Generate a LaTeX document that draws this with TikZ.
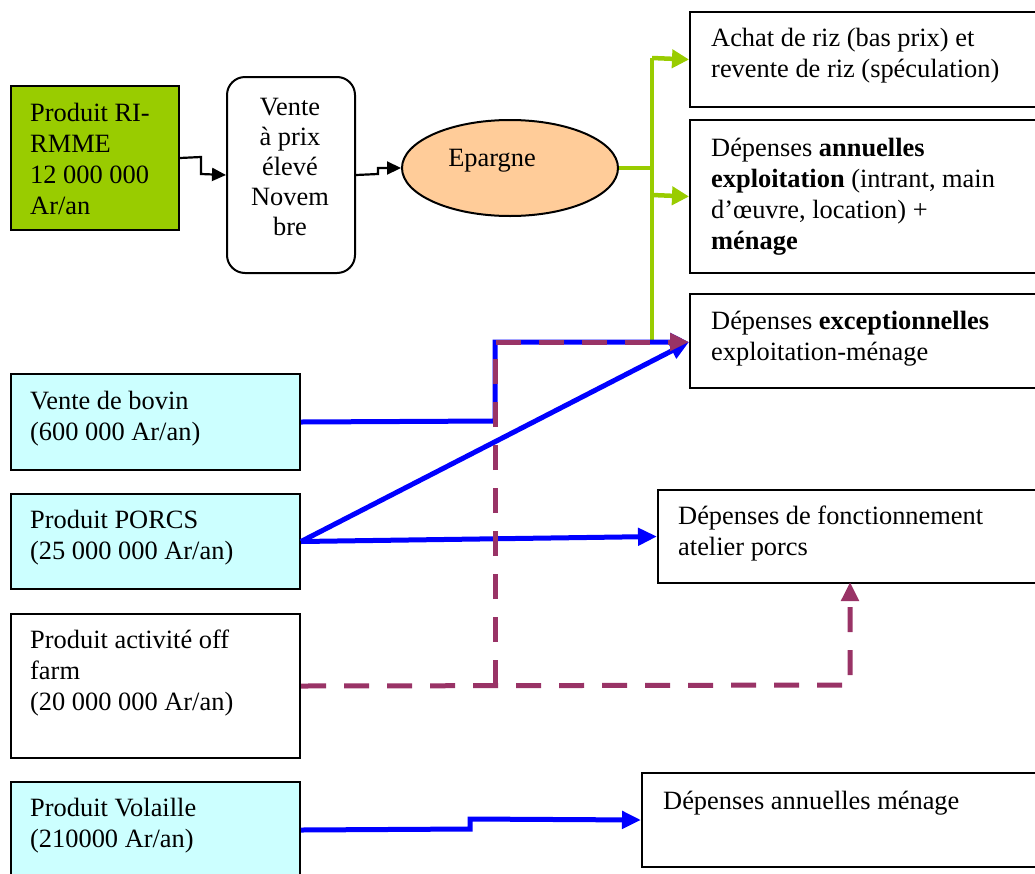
\documentclass[tikz,border=0pt]{standalone}
\usepackage{fontspec}
\setmainfont{Liberation Serif}
\usetikzlibrary{arrows.meta,shapes.geometric,calc}
\definecolor{rigreen}{RGB}{153,204,0}
\definecolor{cyanbox}{RGB}{204,255,255}
\definecolor{epfill}{RGB}{255,204,153}
\definecolor{plum}{RGB}{153,51,102}
\begin{document}
\begin{tikzpicture}[x=1pt,y=-1pt,
  box/.style={draw=black,line width=2pt,rectangle,inner sep=0pt,anchor=north west},
  txt/.style={inner sep=0pt,anchor=north west,yshift=17.5pt,align=left,font=\fontsize{26.4}{31}\selectfont},
  ctxt/.style={inner sep=0pt,anchor=north,yshift=17.5pt,align=center,font=\fontsize{26.4}{30}\selectfont},
  blk/.style={line width=2.2pt,-{Triangle[length=14pt,width=13pt]}},
  grn/.style={rigreen,line width=4.5pt},
  grnarr/.style={grn,-{Triangle[length=17pt,width=18pt]}},
  blu/.style={blue,line width=5pt,-{Triangle[length=19pt,width=17pt]}},
  plm/.style={plum,line width=5pt,dash pattern=on 25pt off 18pt,-{Triangle[length=19pt,width=17pt]}}
]
\useasboundingbox (0,0) rectangle (1035,873);
\clip (0,0) rectangle (1035,873);

% left column
\node[box,fill=rigreen,minimum width=168pt,minimum height=144pt] (ri) at (10,85) {};
\node[txt] (riT) at ($(ri.north west)+(20,35)$) {Produit RI-\\RMME\\12 000 000\\Ar/an};

\node[box,fill=white,rounded corners=18pt,minimum width=128pt,minimum height=196pt] (vente) at (226,76) {};
\node[ctxt] (venteT) at (290,116) {Vente\\à prix\\élevé\\Novem\\bre};

\node[draw=black,line width=2pt,ellipse,fill=epfill,minimum width=216pt,minimum height=96pt,inner sep=0pt] (epargne) at (510,168) {};
\node[ctxt] (epargneT) at (492,167) {Epargne};

\node[box,fill=cyanbox,minimum width=289pt,minimum height=96pt] (bovin) at (10,373) {};
\node[txt] (bovinT) at ($(bovin.north west)+(20,35)$) {Vente de bovin\\(600 000 Ar/an)};

\node[box,fill=cyanbox,minimum width=289pt,minimum height=95pt] (porcs) at (10,493) {};
\node[txt] (porcsT) at ($(porcs.north west)+(20,34)$) {Produit PORCS\\(25 000 000 Ar/an)};

\node[box,fill=white,minimum width=289pt,minimum height=144pt] (offfarm) at (10,613) {};
\node[txt] (offfarmT) at ($(offfarm.north west)+(20,34)$) {Produit activité off\\farm\\(20 000 000 Ar/an)};

\node[box,fill=cyanbox,minimum width=289pt,minimum height=96pt] (volaille) at (10,781) {};
\node[txt] (volailleT) at ($(volaille.north west)+(20,34)$) {Produit Volaille\\(210000 Ar/an)};

% right column
\node[box,minimum width=380pt,minimum height=95pt] (achat) at (689,11) {};
\node[txt] (achatT) at ($(achat.north west)+(22,34)$) {Achat de riz (bas prix) et\\revente de riz (spéculation)};

\node[box,minimum width=380pt,minimum height=153pt] (annuelles) at (689,119) {};
\node[txt] (annuellesT) at ($(annuelles.north west)+(22,36)$) {Dépenses \textbf{annuelles}\\\textbf{exploitation} (intrant, main\\d’œuvre, location) +\\\textbf{ménage}};

\node[box,minimum width=380pt,minimum height=94pt] (except) at (689,293) {};
\node[txt] (exceptT) at ($(except.north west)+(22,35)$) {Dépenses \textbf{exceptionnelles}\\exploitation-ménage};

\node[box,minimum width=400pt,minimum height=93pt] (atelier) at (657,489) {};
\node[txt] (atelierT) at ($(atelier.north west)+(21,34)$) {Dépenses de fonctionnement\\atelier porcs};

\node[box,minimum width=420pt,minimum height=94pt] (menage) at (641,772) {};
\node[txt] (menageT) at ($(menage.north west)+(22,36)$) {Dépenses annuelles ménage};

% black connectors
\draw[blk] (ri.east) -- (201,157) -- (201,174) -- (vente.west);
\draw[blk] (vente.east) -- (378,174) -- (378,168) -- (epargne.west);

% green connectors
\coordinate (gtop) at (652,58);
\coordinate (gmid) at (652,195);
\coordinate (gbot) at (652,342);
\draw[grn] (epargne.east) -- (652,168);
\draw[grn] (gtop) -- (gbot);
\draw[grnarr] (gtop) -- (achat.west);
\draw[grnarr] (gmid) -- (annuelles.west);

% blue connectors
\coordinate (exin) at (689,342);
\draw[blu] (bovin.east) -- (495,421) -- (495,342) -- (exin);
\draw[blu] (porcs.east) -- (exin);
\draw[blu] (porcs.east) -- (atelier.west);
\draw[blu] (volaille.east) -- (470,829) -- (470,819) -- (menage.west);

% purple dashed connectors
\draw[plm] (offfarm.east) -- (850,685) -- (850,582);
\draw[plm] (495,685) -- (495,342) -- (exin);
\end{tikzpicture}
\end{document}
